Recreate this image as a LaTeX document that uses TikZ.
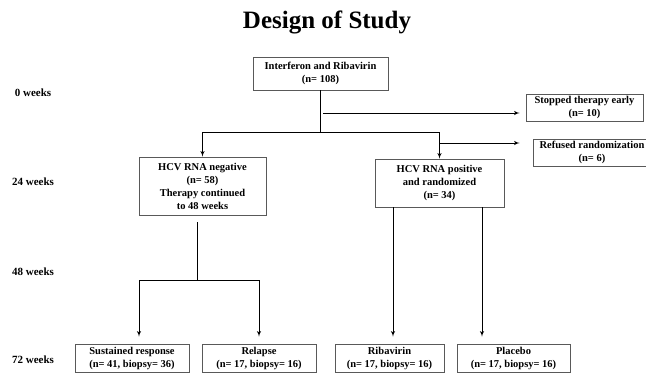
\documentclass[tikz,border=0pt]{standalone}
\usepackage{fontspec}
\setmainfont{Liberation Serif}
\usepackage{tikz}
\usetikzlibrary{shapes,arrows}
\tikzstyle{block} = [rectangle, draw=black!65, line width=0.7pt, inner sep=0pt,
    align=center, font=\bfseries\fontsize{10.5}{13}\selectfont]
\tikzstyle{week} = [font=\bfseries\fontsize{11}{13}\selectfont]
\tikzstyle{link} = [draw, line width=0.9pt]
\tikzstyle{line} = [draw, line width=0.9pt, -latex']

\begin{document}
\begin{tikzpicture}[x=1pt, y=-1pt]
    \useasboundingbox (0,0) rectangle (646,373);
    % Place nodes
    \node [font=\bfseries\fontsize{25}{28}\selectfont] (title) at (327,22) {Design of Study};
    \node [week] (w0) at (33,93) {0 weeks};
    \node [week] (w24) at (33,182) {24 weeks};
    \node [week] (w48) at (33,272) {48 weeks};
    \node [week] (w72) at (33,360) {72 weeks};
    \node [block, minimum width=135pt, minimum height=33pt] (start) at (320.5,73.5) {Interferon and Ribavirin\\(n= 108)};
    \node [block, minimum width=117pt, minimum height=27pt] (stop) at (584.5,107.5) {Stopped therapy early\\(n= 10)};
    \node [block, minimum width=118pt, minimum height=27pt] (ref) at (592,152.5) {Refused randomization\\(n= 6)};
    \node [block, minimum width=127pt, minimum height=58pt] (neg) at (202.5,186) {HCV RNA negative\\(n= 58)\\Therapy continued\\to 48 weeks};
    \node [block, minimum width=129pt, minimum height=48pt] (pos) at (439.5,183) {HCV RNA positive\\and randomized\\(n= 34)};
    \node [block, minimum width=114pt, minimum height=28pt] (sus) at (132,358) {Sustained response\\(n= 41, biopsy= 36)};
    \node [block, minimum width=114pt, minimum height=28pt] (rel) at (259,358) {Relapse\\(n= 17, biopsy= 16)};
    \node [block, minimum width=109pt, minimum height=28pt] (rib) at (389.5,358) {Ribavirin\\(n= 17, biopsy= 16)};
    \node [block, minimum width=113pt, minimum height=28pt] (pla) at (513.5,358) {Placebo\\(n= 17, biopsy= 16)};
    \coordinate (fork) at (320.5,132);
    \coordinate (stopFrom) at (323,113);
    \coordinate (refFrom) at (439.5,143);
    \coordinate (split) at (197,280);
    % Draw edges
    \path [link] (start.south) -- (fork);
    \path [line] (fork) -| (neg.north);
    \path [line] (fork) -| (pos.north);
    \path [line, shorten >=6pt] (stopFrom) -- (stopFrom -| stop.west);
    \path [line, shorten >=13pt] (refFrom) -- (refFrom -| ref.west);
    \path [link] ([xshift=-5.5pt]neg.south) ++(0,7) -- (split);
    \path [line, shorten >=7pt] (split) -| ([xshift=7pt]sus.north);
    \path [line, shorten >=7pt] (split) -| (rel.north);
    \path [line, shorten >=7pt] ([xshift=3.5pt]rib.north |- pos.south) -- ([xshift=3.5pt]rib.north);
    \path [line, shorten >=7pt] ([xshift=-31.5pt]pla.north |- pos.south) -- ([xshift=-31.5pt]pla.north);
\end{tikzpicture}
\end{document}
